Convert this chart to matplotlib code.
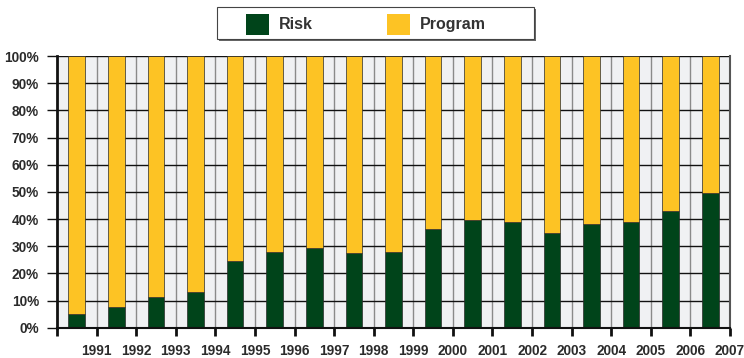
import matplotlib
matplotlib.use("Agg")
import matplotlib.pyplot as plt
from matplotlib.patches import Rectangle

# Share of each year's total (percent)
risk = [4.9, 7.5, 11.2, 13.0, 24.4, 27.7, 29.3, 27.4, 27.7, 36.5,
        39.5, 38.8, 34.8, 38.2, 38.8, 42.9, 49.4]
program = [95.1, 92.5, 88.8, 87.0, 75.6, 72.3, 70.7, 72.6, 72.3, 63.5,
           60.5, 61.2, 65.2, 61.8, 61.2, 57.1, 50.6]
year_labels = ["1991", "1992", "1993", "1994", "1995", "1996", "1997", "1998",
               "1999", "2000", "2001", "2002", "2003", "2004", "2005", "2006",
               "2007"]
y_ticks = [0, 10, 20, 30, 40, 50, 60, 70, 80, 90, 100]

GREEN = "#00441a"
YELLOW = "#fdc324"
TEXT = "#2b2b2b"

plt.rcParams["font.family"] = ["Liberation Sans", "DejaVu Sans"]

W, H = 744, 358
fig = plt.figure(figsize=(W / 100, H / 100), dpi=100)
fig.patch.set_facecolor("white")

left, right, top, bottom = 57, 730, 56, 327.7
ax = fig.add_axes([left / W, (H - bottom) / H, (right - left) / W, (bottom - top) / H])
ax.set_facecolor("#f0f1f3")

n = len(risk)
pos = [i + 0.5 for i in range(n)]
bw = 0.42
ax.bar(pos, risk, width=bw, color=GREEN, edgecolor="#2a2a2a", linewidth=0.5, zorder=3)
ax.bar(pos, program, width=bw, bottom=risk, color=YELLOW, edgecolor="#2a2a2a",
       linewidth=0.5, zorder=3)

ax.set_xlim(0, n)
ax.set_ylim(0, 100)

# horizontal grid (black) and vertical grid (grey) at interval boundaries
for y in y_ticks[1:]:
    ax.axhline(y, color="#111111", linewidth=1.0, zorder=2)
for x in range(1, n):
    ax.axvline(x, color="#8a8a8a", linewidth=1.0, zorder=1)

ax.set_yticks(y_ticks)
ax.set_yticklabels([f"{v}%" for v in y_ticks], fontsize=9.8, fontweight="bold", color=TEXT)
ax.set_xticks(range(0, n + 1))
ax.set_xticklabels([""] + year_labels, fontsize=9.8, fontweight="bold", color=TEXT)

ax.tick_params(axis="x", length=6, width=2, color="#111111", pad=6, direction="out")
ax.tick_params(axis="y", length=7, width=1, color="#111111", pad=6, direction="out")

ax.spines["top"].set_visible(False)
ax.spines["left"].set_linewidth(2)
ax.spines["left"].set_color("#111111")
ax.spines["bottom"].set_linewidth(1.5)
ax.spines["bottom"].set_color("#111111")
ax.spines["right"].set_linewidth(1.5)
ax.spines["right"].set_color("#555555")
ax.spines["left"].set_zorder(4)
ax.spines["bottom"].set_zorder(4)

# legend box
def fx(px):
    return px / W

def fy(py):
    return (H - py) / H

fig.add_artist(Rectangle((fx(219), fy(41)), fx(536) - fx(219), fy(9) - fy(41),
                         transform=fig.transFigure, facecolor="#666666",
                         edgecolor="none", zorder=1))
fig.add_artist(Rectangle((fx(217), fy(39)), fx(534) - fx(217), fy(7) - fy(39),
                         transform=fig.transFigure, facecolor="white",
                         edgecolor="#444444", linewidth=0.8, zorder=2))
for x0, color, label in [(246, GREEN, "Risk"), (387, YELLOW, "Program")]:
    fig.add_artist(Rectangle((fx(x0), fy(35)), fx(x0 + 23) - fx(x0), fy(14) - fy(35),
                             transform=fig.transFigure, facecolor=color,
                             edgecolor="none", zorder=3))
    fig.text(fx(x0 + 33), fy(24.5), label, fontsize=11.5, fontweight="bold",
             color="#333333", va="center", ha="left", zorder=3)

fig.savefig("out.png", dpi=100)
